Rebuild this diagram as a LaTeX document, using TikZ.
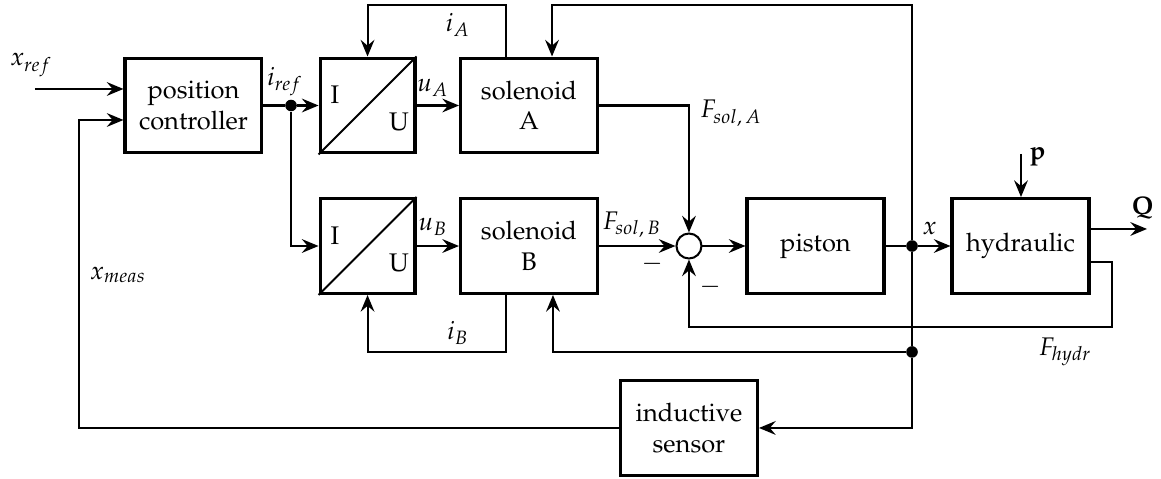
\documentclass[tikz,border=0pt]{standalone}
\usepackage[T1]{fontenc}
\usepackage{mathpazo}
\usepackage{amsmath}
\usetikzlibrary{arrows.meta,positioning,calc}

\begin{document}
\begin{tikzpicture}[
      block/.style={draw, very thick, minimum width=1.89cm, minimum height=1.31cm,
                    align=center, inner sep=2pt},
      conv/.style={draw, very thick, minimum size=1.31cm, inner sep=0pt},
      sumpt/.style={draw, thick, circle, minimum size=0.345cm, inner sep=0pt},
      dot/.style={circle, fill, inner sep=0pt, minimum size=1.6mm},
      sig/.style={thick, -{Stealth[length=2.3mm, width=1.9mm, inset=0.8mm]}},
      wire/.style={thick},
      lbl/.style={inner sep=0pt}]
    \useasboundingbox (0,0) rectangle (16.022,6.610);
    % blocks
    \node[block] (ctrl) at (2.670,5.154) {position\\controller};
    \node[conv]  (iuA)  at (5.072,5.154) {};
    \node[conv]  (iuB)  at (5.072,3.215) {};
    \node[block] (solA) at (7.300,5.154) {solenoid\\A};
    \node[block] (solB) at (7.300,3.215) {solenoid\\B};
    \node[sumpt] (sum)  at (9.508,3.215) {};
    \node[block] (pist) at (11.254,3.215) {piston};
    \node[block] (hydr) at (14.083,3.215) {hydraulic};
    \node[block] (sens) at (9.508,0.704) {inductive\\sensor};
    \foreach \b in {iuA,iuB}{
      \draw[thick] (\b.south west) -- (\b.north east);
      \node (\b I) at ($(\b)+(-0.449,0.145)$) {I};
      \node (\b U) at ($(\b)+(0.435,-0.228)$) {U};
    }
    % junctions and free ends
    \node[dot] (jref) at (4.016,5.154) {};
    \node[dot] (jx)   at (12.586,3.215) {};
    \node[dot] (jb)   at (12.586,1.753) {};
    \coordinate (in)    at (0.483,5.382);
    \coordinate (fbk)   at (1.090,4.954);
    \coordinate (ytop)  at (0,6.541);
    \coordinate (hloop) at (15.346,2.098);
    \coordinate (qout)  at (15.829,3.450);
    \coordinate (pin)   at (14.090,4.485);
    \coordinate (solAin) at ([xshift=3.18mm]solA.north);
    \coordinate (solAi)  at ([xshift=-3.17mm]solA.north);
    \coordinate (solBin) at ([xshift=3.31mm]solB.south);
    \coordinate (solBi)  at ([xshift=-3.17mm]solB.south);
    \coordinate (hydrout) at ([yshift=-2.2mm]hydr.east);
    % forward path
    \draw[sig] (in) -- (in -| ctrl.west);
    \draw[wire] (ctrl.east) -- (jref);
    \draw[sig] (jref) -- (iuA.west);
    \draw[sig] (jref) |- (iuB.west);
    \draw[sig] (iuA.east) -- (solA.west);
    \draw[sig] (iuB.east) -- (solB.west);
    \draw[sig] (solA.east) -| (sum.north);
    \draw[sig] (solB.east) -- (sum.west);
    \draw[sig] (sum.east) -- (pist.west);
    \draw[wire] (pist.east) -- (jx);
    \draw[sig] (jx) -- (hydr.west);
    \draw[sig] (hydr.east |- qout) -- (qout);
    \draw[sig] (pin) -- (pin |- hydr.north);
    % current loops
    \draw[sig] (solAi) |- (iuA.north |- ytop) -- (iuA.north);
    \draw[sig] (solBi) |- (iuB.south |- jb) -- (iuB.south);
    % position feedback
    \draw[sig] (jx) |- (solAin |- ytop) -- (solAin);
    \draw[wire] (jx) -- (jb);
    \draw[sig] (jb) -| (solBin);
    \draw[sig] (jb) |- (sens.east);
    \draw[sig] (sens.west) -| (fbk) -- (fbk -| ctrl.west);
    \draw[sig] (hydrout) -| (hloop) -| (sum.south);
    % labels
    \node[lbl] (lxref)  at (0.43,5.713)  {$x_{ref}$};
    \node[lbl] (liref)  at (3.933,5.479) {$i_{ref}$};
    \node[lbl] (luA)    at (5.975,5.396) {$u_A$};
    \node[lbl] (luB)    at (5.975,3.478) {$u_B$};
    \node[lbl] (liA)    at (6.32,6.265)  {$i_A$};
    \node[lbl] (liB)    at (6.32,2.015)  {$i_B$};
    \node[lbl, anchor=west] (lFA) at (9.66,5.05) {$F_{sol,\,A}$};
    \node[lbl] (lFB)    at (8.72,3.505)  {$F_{sol,\,B}$};
    \node[lbl] (lm1)    at (9.00,2.967)  {$-$};
    \node[lbl] (lm2)    at (9.80,2.650)  {$-$};
    \node[lbl] (lx)     at (12.83,3.46)  {$x$};
    \node[lbl] (lp)     at (14.32,4.44)  {$\mathbf{p}$};
    \node[lbl] (lQ)     at (15.77,3.74)  {$\mathbf{Q}$};
    \node[lbl] (lFh)    at (14.70,1.753) {$F_{hydr}$};
    \node[lbl] (lxm)    at (1.63,2.815)  {$x_{meas}$};
  \end{tikzpicture}
\end{document}
